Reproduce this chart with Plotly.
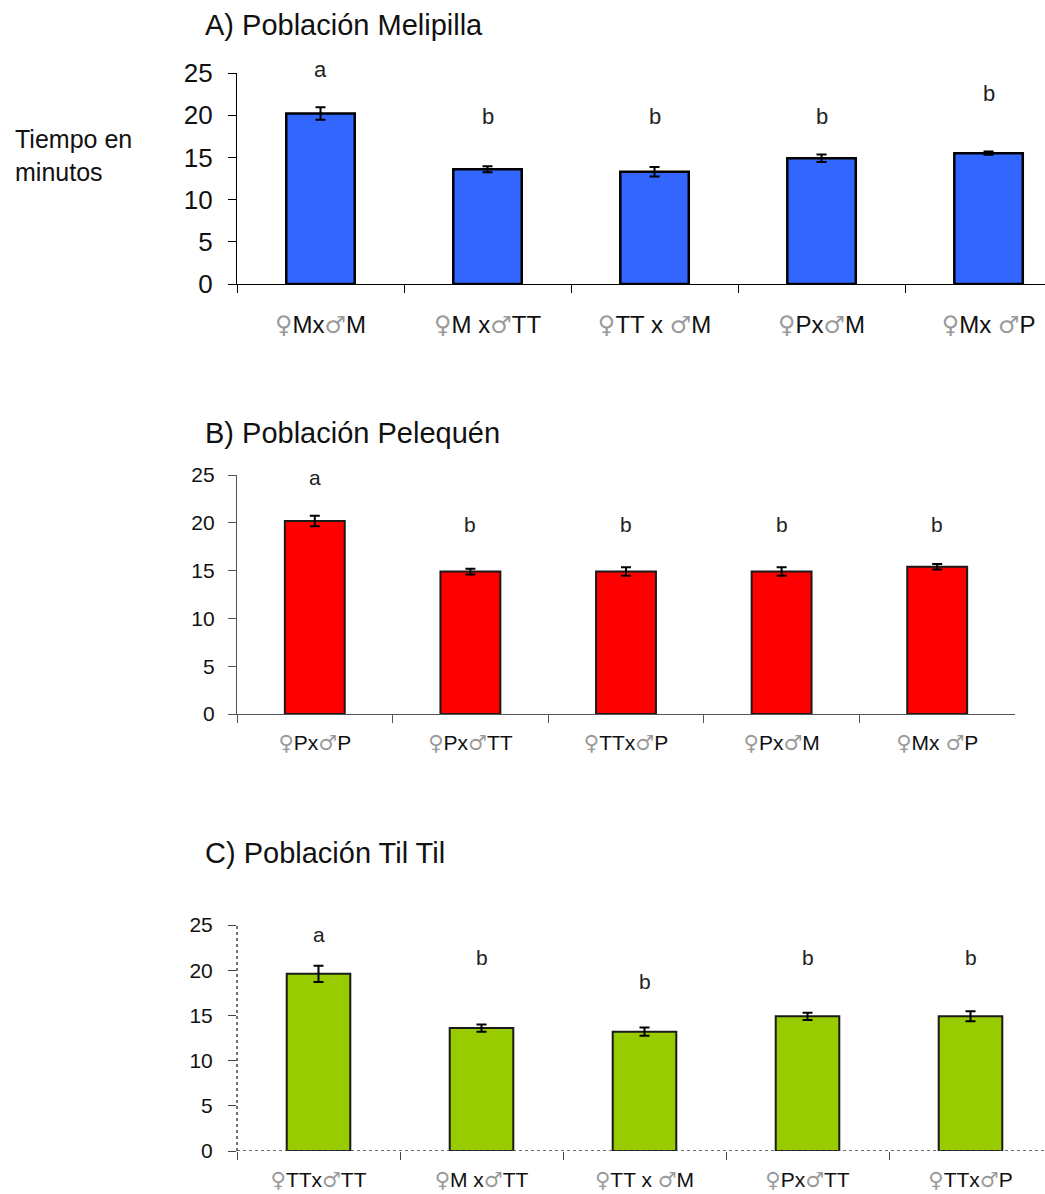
import plotly.graph_objects as go

# --- data -----------------------------------------------------------------
cats_a = ["♀Mx♂M", "♀M x♂TT", "♀TT x ♂M", "♀Px♂M", "♀Mx ♂P"]
mean_a = [20.2, 13.6, 13.3, 14.9, 15.5]
se_a = [0.75, 0.35, 0.55, 0.45, 0.2]
letters_a = ["a", "b", "b", "b", "b"]

cats_b = ["♀Px♂P", "♀Px♂TT", "♀TTx♂P", "♀Px♂M", "♀Mx ♂P"]
mean_b = [20.2, 14.9, 14.9, 14.9, 15.4]
se_b = [0.55, 0.3, 0.45, 0.45, 0.28]
letters_b = ["a", "b", "b", "b", "b"]

cats_c = ["♀TTx♂TT", "♀M x♂TT", "♀TT x ♂M", "♀Px♂TT", "♀TTx♂P"]
mean_c = [19.6, 13.6, 13.2, 14.9, 14.9]
se_c = [0.9, 0.4, 0.45, 0.4, 0.55]
letters_c = ["a", "b", "b", "b", "b"]

y_ticks = [0, 5, 10, 15, 20, 25]
Y_MAX = 25

FONT = "Liberation Sans, Arial, DejaVu Sans, sans-serif"
SYM_FONT = "DejaVu Sans"
W, H = 1045, 1194


def styled(label):
    """Grey sex symbols, dark letters."""
    sym = "<span style='color:#9a9a9a;font-family:%s'>%s</span>"
    return (label.replace("♀", sym % (SYM_FONT, "♀"))
                 .replace("♂", sym % (SYM_FONT, "♂")))


def px_y(p):
    return 1 - p / H


panels = [
    dict(cats=cats_a, mean=mean_a, se=se_a, letters=letters_a, color="#3366FF",
         line="#000000", lw=2.5, bw=0.41, xr=[-0.5, 4.338], xd=[237 / W, 1.0],
         yd=[px_y(284), px_y(73)], yfont=26, xfont=24, lfont=22, axcol="#000000",
         letter_y=[25.4, 19.8, 19.8, 19.8, 22.6], xstand=19, ystand=10),
    dict(cats=cats_b, mean=mean_b, se=se_b, letters=letters_b, color="#FF0000",
         line="#1a1a1a", lw=2, bw=0.385, xr=[-0.5, 4.5], xd=[237 / W, 1015 / W],
         yd=[px_y(714), px_y(475)], yfont=21, xfont=21, lfont=21, axcol="#555555",
         letter_y=[24.7, 19.8, 19.8, 19.8, 19.8], xstand=10, ystand=9),
    dict(cats=cats_c, mean=mean_c, se=se_c, letters=letters_c, color="#99CC00",
         line="#1a1a1a", lw=2, bw=0.39, xr=[-0.5, 4.457], xd=[237 / W, 1.0],
         yd=[px_y(1151), px_y(925)], yfont=21, xfont=21, lfont=21, axcol="#444444",
         letter_y=[24.0, 21.35, 18.7, 21.35, 21.35], xstand=14, ystand=11),
]

fig = go.Figure()
annotations = []
shapes = []

for i, p in enumerate(panels, start=1):
    xa = "x" if i == 1 else f"x{i}"
    ya = "y" if i == 1 else f"y{i}"
    labels = [styled(c) for c in p["cats"]]
    fig.add_trace(go.Bar(
        x=labels, y=p["mean"], xaxis=xa, yaxis=ya, width=p["bw"],
        marker=dict(color=p["color"], line=dict(color=p["line"], width=p["lw"])),
        error_y=dict(type="data", array=p["se"], color="#000000", thickness=2, width=5),
        showlegend=False,
    ))
    dotted = i == 3
    fig.update_layout(**{
        ("xaxis" if i == 1 else f"xaxis{i}"): dict(
            type="category", domain=p["xd"], range=p["xr"], anchor=ya,
            tickson="boundaries", ticks="outside", ticklen=8, tickcolor=p["axcol"],
            showline=not dotted, linecolor=p["axcol"], linewidth=1.2,
            showgrid=False, zeroline=False, ticklabelstandoff=p["xstand"],
            tickfont=dict(family=FONT, size=p["xfont"], color="#111111"),
            automargin=False, fixedrange=True,
        ),
        ("yaxis" if i == 1 else f"yaxis{i}"): dict(
            domain=p["yd"], range=[0, Y_MAX], anchor=xa,
            tickmode="array", tickvals=y_ticks, ticks="outside", ticklen=8,
            tickcolor=p["axcol"], showline=not dotted, linecolor=p["axcol"],
            linewidth=1.2, showgrid=False, zeroline=False, ticklabelstandoff=p["ystand"],
            tickfont=dict(family=FONT, size=p["yfont"], color="#111111"),
            automargin=False, fixedrange=True,
        ),
    })
    # significance letters, placed in axis-domain units so they may sit above the top tick
    for lab, let, ly in zip(labels, p["letters"], p["letter_y"]):
        annotations.append(dict(
            x=lab, y=ly / Y_MAX, xref=xa, yref=f"{ya} domain", text=let, showarrow=False,
            font=dict(family=FONT, size=p["lfont"], color="#222222"),
            xanchor="center", yanchor="middle",
        ))
    if dotted:
        shapes.append(dict(type="line", xref=f"{xa} domain", yref=ya, x0=0, x1=1, y0=0, y1=0,
                           line=dict(color=p["axcol"], width=1.5, dash="dot")))
        shapes.append(dict(type="line", xref=f"{xa} domain", yref=ya, x0=0, x1=0, y0=0, y1=Y_MAX,
                           line=dict(color=p["axcol"], width=1.5, dash="dot")))

# panel titles and y-axis caption
titles = ["A) Población Melipilla", "B) Población Pelequén", "C) Población Til Til"]
title_y = [25, 433, 853]
for t, ty in zip(titles, title_y):
    annotations.append(dict(
        x=203 / W, y=px_y(ty), xref="paper", yref="paper", text=t, showarrow=False,
        xanchor="left", yanchor="middle",
        font=dict(family=FONT, size=29, color="#111111"),
    ))
annotations.append(dict(
    x=13 / W, y=px_y(155), xref="paper", yref="paper", text="Tiempo en<br>minutos",
    showarrow=False, xanchor="left", yanchor="middle", align="left",
    font=dict(family=FONT, size=25, color="#111111"),
))

fig.update_layout(
    width=W, height=H, margin=dict(l=0, r=0, t=0, b=0, autoexpand=False),
    paper_bgcolor="white", plot_bgcolor="white",
    annotations=annotations, shapes=shapes, bargap=0.6,
    font=dict(family=FONT),
)

fig.write_html("out.html", config={"displayModeBar": False})
